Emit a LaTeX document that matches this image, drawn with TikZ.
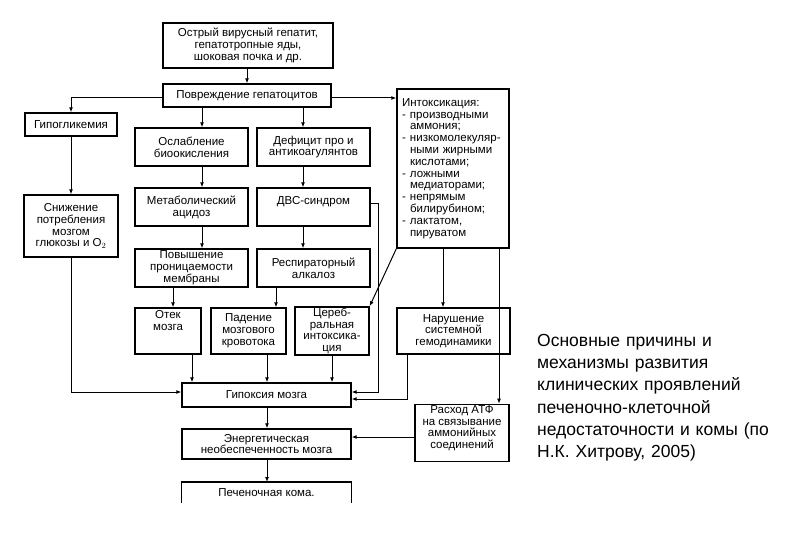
\documentclass[tikz,border=0pt]{standalone}
\usepackage{fontspec}
\setmainfont{Liberation Sans}
\usetikzlibrary{arrows.meta,calc}
\newcommand\dfont{\fontsize{11.5pt}{11.8pt}\selectfont}
\newcommand\itm{\makebox[8pt][l]{-}}
\newcommand\cnt{\hspace*{8pt}}
\begin{document}
\begin{tikzpicture}[x=1pt,y=-1pt,
  box/.style={draw, line width=1.3pt, inner sep=1pt, align=center, font=\dfont},
  arr/.style={line width=1pt, -{Latex[length=5pt,width=4pt]}},
  ln/.style={line width=1pt}]
\useasboundingbox (0,0) rectangle (810,540);
% coordinates for connector positions
\coordinate (cA) at (202,0);
\coordinate (cB) at (303,0);
\coordinate (cC) at (173,0);
\coordinate (cD) at (276,0);
\coordinate (cE) at (192,0);
\coordinate (cF) at (267,0);
\coordinate (cG) at (332,0);
\coordinate (cH) at (378,0);
\coordinate (cI) at (407,0);
\coordinate (cJ) at (443,0);
\coordinate (cK) at (499,0);
\coordinate (cM) at (247,0);
\coordinate (yA) at (0,98);
\coordinate (yB) at (0,392);
\coordinate (yC) at (0,399);
\coordinate (yD) at (0,203);
\coordinate (yE) at (0,437);
% boxes
\node[box, minimum width=170pt, minimum height=45pt] (src) at (248,45.5) {Острый вирусный гепатит,\\гепатотропные яды,\\шоковая почка и др.};
\node[box, minimum width=168pt, minimum height=23pt] (dmg) at (247,95.5) {Повреждение гепатоцитов};
\node[box, minimum width=92pt, minimum height=23pt] (hypo) at (71,124.5) {Гипогликемия};
\node[box, minimum width=113pt, minimum height=38pt] (weak) at (191.5,147) {Ослабление\\биоокисления};
\node[box, minimum width=113pt, minimum height=38pt] (def) at (313.5,147) {Дефицит про и\\антикоагулянтов};
\node[box, text width=102pt, align=left, minimum width=112pt, minimum height=159pt, inner sep=5pt] (intox) at (453,168.5) {Интоксикация:\\
\itm производными\\\cnt аммония;\\
\itm низкомолекуляр-\\\cnt ными жирными\\\cnt кислотами;\\
\itm ложными\\\cnt медиаторами;\\
\itm непрямым\\\cnt билирубином;\\
\itm лактатом,\\\cnt пируватом};
\node[box, minimum width=94pt, minimum height=62pt] (low) at (71,226) {Снижение\\потребления\\мозгом\\глюкозы и O$_2$};
\node[box, minimum width=113pt, minimum height=38pt] (met) at (191.5,207) {Метаболический\\ацидоз};
\node[box, minimum width=113pt, minimum height=38pt, text depth=14pt] (dvs) at (313.5,207) {ДВС-синдром};
\node[box, minimum width=113pt, minimum height=38pt] (perm) at (191.5,268) {Повышение\\проницаемости\\мембраны};
\node[box, minimum width=113pt, minimum height=38pt] (resp) at (313.5,268) {Респираторный\\алкалоз};
\node[box, minimum width=66pt, minimum height=46pt] (edema) at (168,331) {Отек\\мозга\\[9pt]};
\node[box, minimum width=75pt, minimum height=46pt] (flow) at (248.5,331) {Падение\\мозгового\\кровотока};
\node[box, minimum width=74pt, minimum height=46pt] (cereb) at (332,331) {Цереб-\\ральная\\интоксика-\\ция};
\node[box, minimum width=113pt, minimum height=46pt] (hemo) at (453.5,331) {Нарушение\\системной\\гемодинамики};
\node[box, minimum width=169pt, minimum height=24pt] (hypox) at (266.5,395) {Гипоксия мозга};
\node[box, minimum width=169pt, minimum height=30pt] (energy) at (266.5,444) {Энергетическая\\необеспеченность мозга};
\node[box, minimum width=94pt, minimum height=52pt, text depth=12pt] (atp) at (462,433) {Расход АТФ\\на связывание\\аммонийных\\соединений};
\node[font=\dfont, minimum width=169pt, minimum height=21pt, inner sep=0pt, anchor=north] (coma) at (266.5,482) {Печеночная кома.};
\draw[line width=1.3pt] (coma.south west) -- (coma.north west) -- (coma.north east) -- (coma.south east);
% caption
\node[anchor=north west, inner sep=0pt, text width=270pt, align=left,
  font=\fontsize{17.5pt}{22.2pt}\selectfont] (cap) at (537,334) {Основные причины и\\механизмы развития\\клинических проявлений\\печеночно-клеточной\\недостаточности и комы (по\\Н.К. Хитрову, 2005)};
% connectors
\draw[arr] (src.south -| cM) -- (dmg.north -| cM);
\draw[arr] (dmg.west |- yA) -| (hypo.north);
\draw[arr] (dmg.east |- yA) -- (intox.west |- yA);
\draw[arr] (dmg.south -| cA) -- (weak.north -| cA);
\draw[arr] (dmg.south -| cB) -- (def.north -| cB);
\draw[arr] (weak.south -| cA) -- (met.north -| cA);
\draw[arr] (def.south -| cB) -- (dvs.north -| cB);
\draw[arr] (met.south -| cA) -- (perm.north -| cA);
\draw[arr] (dvs.south -| cB) -- (resp.north -| cB);
\draw[arr] (perm.south -| cC) -- (edema.north -| cC);
\draw[arr] (resp.south -| cD) -- (flow.north -| cD);
\draw[arr] (hypo.south) -- (low.north);
\draw[arr] (low.south) |- (hypox.west |- yB);
\draw[arr] (edema.south -| cE) -- (hypox.north -| cE);
\draw[arr] (flow.south -| cF) -- (hypox.north -| cF);
\draw[arr] (cereb.south -| cG) -- (hypox.north -| cG);
\draw[arr] (dvs.east |- yD) -| (cH |- yB) -- (hypox.east |- yB);
\draw[arr] (intox.south west) -- (cereb.north east);
\draw[arr] (intox.south -| cJ) -- (hemo.north -| cJ);
\draw[arr] (hemo.south -| cI) |- (hypox.east |- yC);
\draw[arr] (intox.south -| cK) -- (atp.north -| cK);
\draw[arr] (hypox.south -| cF) -- (energy.north -| cF);
\draw[arr] (atp.west |- yE) -- (energy.east |- yE);
\draw[arr] (energy.south -| cF) -- (coma.north -| cF);
\end{tikzpicture}
\end{document}
